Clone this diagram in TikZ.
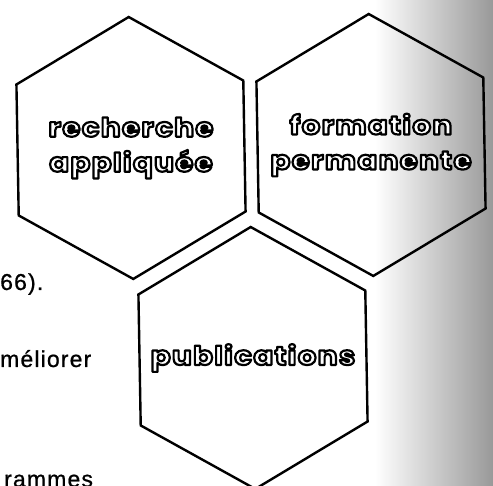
\documentclass[tikz,border=0pt]{standalone}
\usepackage{fontspec}
\usetikzlibrary{shapes.geometric}
\newfontfamily\hexfont{Poppins}[LetterSpace=5, FakeStretch=1.13]
\newfontfamily\pagefont{Liberation Sans}[LetterSpace=5, FakeBold=0.8]
% outlined letters: white fill, black stroke
\newcommand{\hextxt}[1]{\special{pdf:literal direct 2 Tr 2.2 w 1 j 0 G}#1\special{pdf:literal direct 0 Tr}}
\tikzset{every picture/.append style={x=1pt, y=1pt}}
\tikzset{hexa/.style={regular polygon, regular polygon sides=6, shape border rotate=31, minimum size=262pt, inner sep=0pt, draw, line width=2.4pt}}
\tikzset{hexlabel/.style={align=center, inner sep=0pt, text=white, font=\hexfont\bfseries\fontsize{26}{35}\selectfont}}
\tikzset{pagetext/.style={anchor=base west, inner sep=0pt, font=\pagefont\fontsize{23}{27}\selectfont}}
\tikzset{scanshade/.style={left color=white, right color=black!40}}

\begin{document}
\begin{tikzpicture}
  \useasboundingbox (0,0) rectangle (493,486);
  % grey edge of the scanned page
  \shade[scanshade] (375,0) rectangle (493,486);

  % bits of the page text
  \node (txta) at (0,196)[pagetext]{66).};
  \node (txtb) at (0,119)[pagetext]{méliorer};
  \node (txtc) at (4,-1)[pagetext]{rammes};

  \node (rech) at (131,338)[hexa]{};
  \node (form) at (371,341)[hexa]{};
  \node (publ) at (253,128)[hexa]{};

  \node (rechtxt) at (rech.center)[hexlabel]{\hextxt{recherche}\\\hextxt{appliquée}};
  \node (formtxt) at (form.center)[hexlabel]{\hextxt{formation}\\\hextxt{permanente}};
  \node (publtxt) at (publ.center)[hexlabel]{\hextxt{publications}};
\end{tikzpicture}
\end{document}
